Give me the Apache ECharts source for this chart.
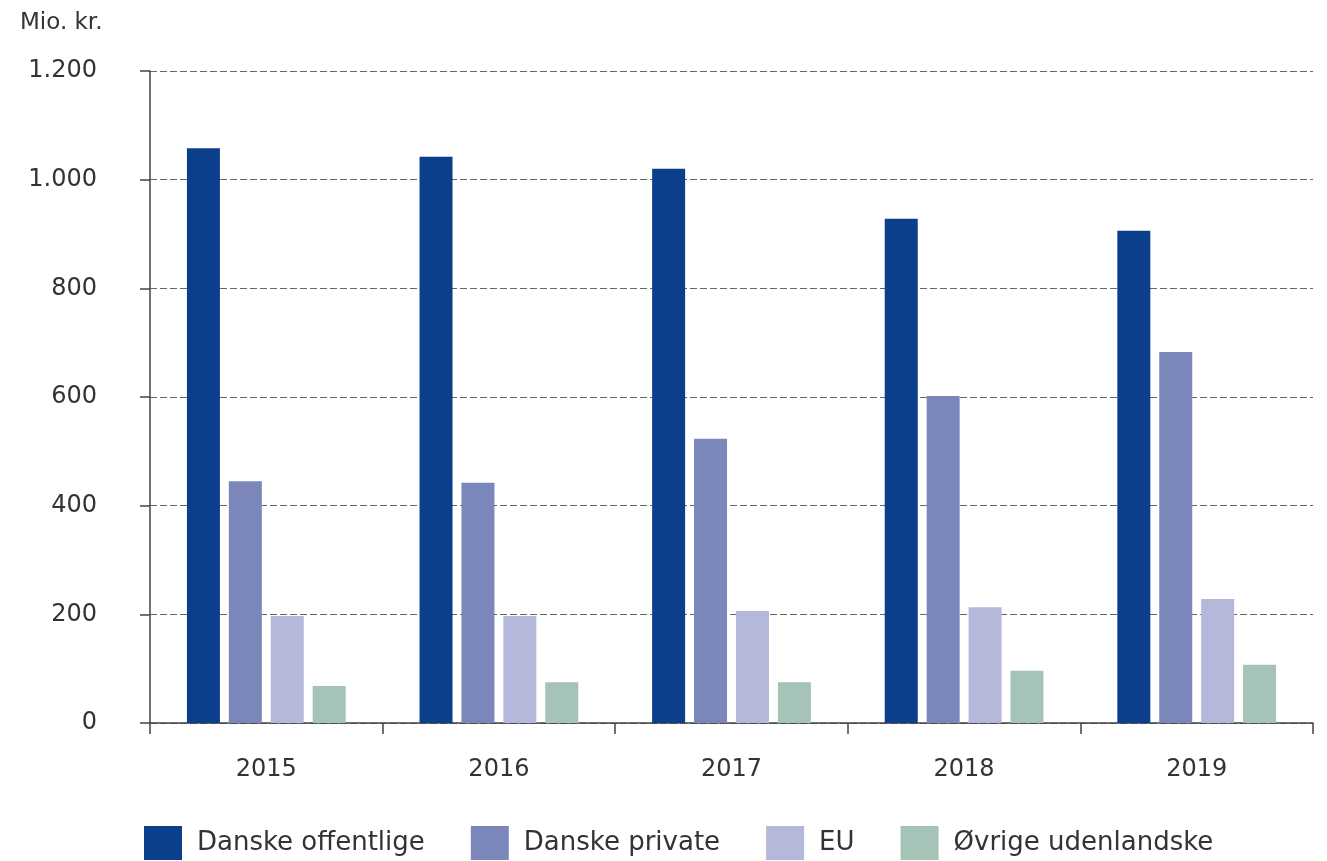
<!DOCTYPE html>
<html>
<head>
<meta charset="utf-8">
<script src="https://cdn.jsdelivr.net/npm/echarts@6/dist/echarts.min.js"></script>
<style>
  html, body { margin: 0; padding: 0; background: #fff; }
  #chart { width: 1327px; height: 861px; }
</style>
</head>
<body>
<div id="chart"></div>
<script>
// data
const years = ['2015', '2016', '2017', '2018', '2019']
const danskeOffentlige = [1058, 1042, 1020, 928, 906]
const danskePrivate = [445, 442, 523, 602, 683]
const eu = [197, 197, 206, 213, 228]
const oevrigeUdenlandske = [68, 75, 75, 96, 107]
const seriesNames = ['Danske offentlige', 'Danske private', 'EU', 'Øvrige udenlandske']
const colors = ['#0b3f8b', '#7b87bb', '#b4b9db', '#a6c3b7']

const font = '"DejaVu Sans", sans-serif'
const chart = echarts.init(document.getElementById('chart'))

const seriesData = [danskeOffentlige, danskePrivate, eu, oevrigeUdenlandske]

const option = {
  animation: false,
  textStyle: { fontFamily: font },
  title: {
    text: 'Mio. kr.',
    left: 15,
    top: 7,
    textStyle: { fontSize: 23, fontWeight: 'normal', color: '#333', fontFamily: font }
  },
  color: colors,
  legend: {
    data: seriesNames,
    left: 139,
    top: 821,
    itemWidth: 38,
    itemHeight: 34,
    itemGap: 46,
    icon: 'rect',
    textStyle: { fontSize: 26, color: '#333', fontFamily: font, padding: [0, 0, 0, 10] }
  },
  grid: {
    left: 150,
    right: 14,
    top: 71,
    bottom: 138
  },
  xAxis: {
    type: 'category',
    data: years,
    axisLine: { lineStyle: { color: '#444', width: 1.5 } },
    axisTick: { show: true, length: 11, lineStyle: { color: '#444', width: 1.5 } },
    axisLabel: { fontSize: 24, color: '#333', margin: 35, fontFamily: font }
  },
  yAxis: {
    type: 'value',
    min: 0,
    max: 1200,
    interval: 200,
    axisLine: { show: true, lineStyle: { color: '#444', width: 1.5 } },
    axisTick: { show: true, length: 10, lineStyle: { color: '#444', width: 1.5 } },
    axisLabel: {
      fontSize: 24,
      color: '#333',
      margin: 53,
      align: 'right',
      fontFamily: font,
      formatter: (v) => String(v).replace(/\B(?=(\d{3})+(?!\d))/g, '.')
    },
    splitLine: { lineStyle: { color: '#666', type: [7, 3], width: 1 } }
  },
  series: seriesNames.map((name, i) => ({
    name: name,
    type: 'bar',
    data: seriesData[i],
    barWidth: 33,
    barGap: '27%',
    itemStyle: { color: colors[i] }
  }))
}

chart.setOption(option)
</script>
</body>
</html>
